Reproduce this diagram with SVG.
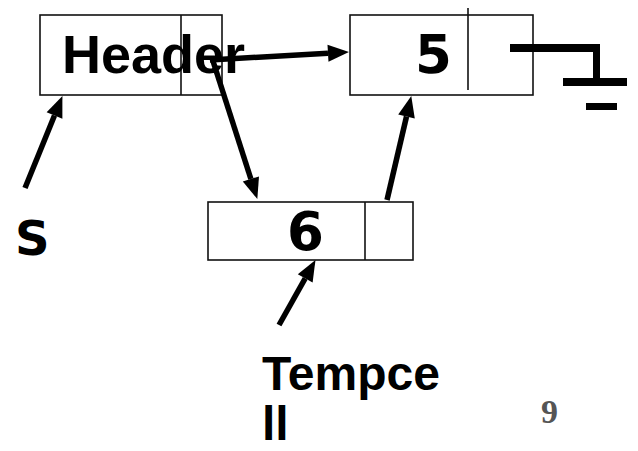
<svg xmlns="http://www.w3.org/2000/svg" width="638" height="451" viewBox="0 0 638 451">
  <style>
    .box { fill: #fff; stroke: #111; stroke-width: 1.6; }
    .div { stroke: #111; stroke-width: 1.6; }
    .lbl { font-family: "Liberation Sans", Arial, sans-serif; font-weight: bold; fill: #000; }
    .num { font-family: "DejaVu Sans", Verdana, sans-serif; font-weight: bold; fill: #000; }
    .arrow { stroke: #000; stroke-width: 5.5; fill: none; marker-end: url(#head); }
    .nil { fill: #000; }
  </style>
  <defs>
    <marker id="head" markerUnits="userSpaceOnUse" markerWidth="24" markerHeight="20" viewBox="0 -10 24 20" refX="0" refY="0" orient="auto" overflow="visible">
      <path d="M0,-8.5 L21,0 L0,8.5 z" fill="#000"/>
    </marker>
  </defs>
  <rect width="638" height="451" fill="#fff"/>

  <g id="node-header">
    <rect class="box" x="40" y="15" width="182" height="80"/>
    <line class="div" x1="181" y1="15" x2="181" y2="95"/>
    <text class="lbl" x="62" y="73" font-size="54">Header</text>
  </g>

  <g id="node-5">
    <rect class="box" x="350" y="15" width="183" height="80"/>
    <line class="div" x1="468" y1="8" x2="468" y2="90"/>
    <text class="num" x="415" y="73" font-size="53">5</text>
  </g>

  <g id="null-ground">
    <rect class="nil" x="510" y="44" width="90" height="8"/>
    <rect class="nil" x="593" y="44" width="7" height="40"/>
    <rect class="nil" x="563" y="78" width="64" height="8"/>
    <rect class="nil" x="586" y="103" width="31" height="7"/>
  </g>

  <g id="node-6">
    <rect class="box" x="208" y="202" width="205" height="58"/>
    <line class="div" x1="365" y1="202" x2="365" y2="260"/>
    <text class="num" x="287" y="250" font-size="53">6</text>
  </g>

  <g id="label-s">
    <text class="num" x="15" y="255" font-size="48">S</text>
  </g>

  <g id="label-tempcell">
    <text class="lbl" x="262" y="390" font-size="48">Tempce</text>
    <text class="lbl" x="262" y="440" font-size="48">ll</text>
  </g>

  <g id="page-number">
    <text x="541" y="423" font-family="Liberation Serif, 'Times New Roman', serif" font-weight="bold" font-size="34" fill="#555">9</text>
  </g>

  <g id="connectors">
    <line class="arrow" x1="210" y1="60" x2="328" y2="53.2"/>
    <line class="arrow" x1="212" y1="58" x2="250.9" y2="179"/>
    <line class="arrow" x1="25" y1="188" x2="54.5" y2="115.5"/>
    <line class="arrow" x1="387" y1="200" x2="406.5" y2="116.5"/>
    <line class="arrow" x1="279" y1="325" x2="305.2" y2="278.4"/>
  </g>
</svg>
